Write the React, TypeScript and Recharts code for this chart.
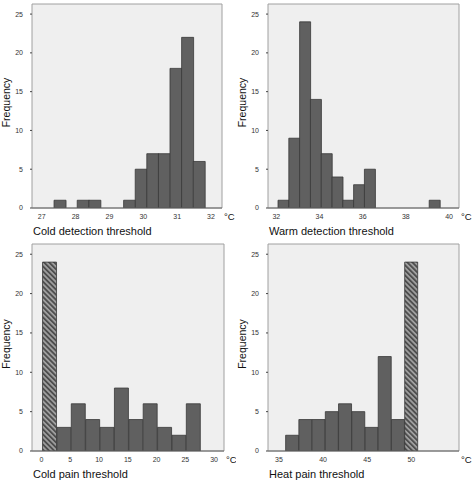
import React from 'react';
import { BarChart, Bar, XAxis, YAxis, Cell, ReferenceArea, Label, CartesianGrid } from 'recharts';

// Cold detection threshold (bin centres, °C) and frequencies
const cdtCenters = [27.535, 27.878, 28.22, 28.563, 28.905, 29.248, 29.59, 29.933, 30.275, 30.618, 30.96, 31.303, 31.645];
const cdtCounts = [1, 0, 1, 1, 0, 0, 1, 5, 7, 7, 18, 22, 6];
const cdtTicks = [27, 28, 29, 30, 31, 32];

// Warm detection threshold
const wdtCenters = [32.33, 32.83, 33.33, 33.83, 34.33, 34.83, 35.33, 35.83, 36.33, 36.83, 37.33, 37.83, 38.33, 38.83, 39.33];
const wdtCounts = [1, 9, 24, 14, 7, 4, 1, 3, 5, 0, 0, 0, 0, 0, 1];
const wdtTicks = [32, 34, 36, 38, 40];

// Cold pain threshold (first bin = cut-off at 0 °C, hatched)
const cptCenters = [1.42, 3.92, 6.42, 8.92, 11.42, 13.92, 16.42, 18.92, 21.42, 23.92, 26.42];
const cptCounts = [24, 3, 6, 4, 3, 8, 4, 6, 3, 2, 6];
const cptHatched = [true, false, false, false, false, false, false, false, false, false, false];
const cptTicks = [0, 5, 10, 15, 20, 25, 30];

// Heat pain threshold (last bin = cut-off at 50 °C, hatched)
const hptCenters = [36.5, 38, 39.5, 41, 42.5, 44, 45.5, 47, 48.5, 50];
const hptCounts = [2, 4, 4, 5, 6, 5, 3, 12, 4, 24];
const hptHatched = [false, false, false, false, false, false, false, false, false, true];
const hptTicks = [35, 40, 45, 50];

const freqTicks = [0, 5, 10, 15, 20, 25];
const freqMax = 26.3;

type PanelProps = {
  centers: number[];
  counts: number[];
  hatched?: boolean[];
  ticks: number[];
  domain: [number, number];
  title: string;
  marginRight: number;
  height: number;
  patternId: string;
};

function Panel({ centers, counts, hatched, ticks, domain, title, marginRight, height, patternId }: PanelProps) {
  const data = centers.map((x, i) => ({ x, n: counts[i], h: hatched ? hatched[i] : false }));
  return (
    <BarChart
      width={236}
      height={height}
      data={data}
      margin={{ top: 4, right: marginRight, bottom: 4, left: 0 }}
      barCategoryGap={0}
      barGap={0}
    >
      <defs>
        <pattern id={patternId} patternUnits="userSpaceOnUse" width={3.6} height={3.6} patternTransform="rotate(-45)">
          <rect width={3.6} height={3.6} fill="#a2a2a2" />
          <rect width={1.9} height={3.6} fill="#4e4e4e" />
        </pattern>
      </defs>
      <CartesianGrid horizontal={false} vertical={false} fill="#efefef" />
      <ReferenceArea
        x1={domain[0]}
        x2={domain[1]}
        y1={0}
        y2={freqMax}
        fill="none"
        fillOpacity={0}
        stroke="#a0a0a0"
        strokeWidth={1}
        ifOverflow="visible"
      />
      <XAxis
        dataKey="x"
        type="number"
        domain={domain}
        allowDataOverflow
        ticks={ticks}
        interval={0}
        height={28}
        tickLine={false}
        tickSize={0}
        tickMargin={6}
        axisLine={{ stroke: '#666' }}
        tick={{ fontSize: 7, fill: '#333' }}
      >
        <Label value={title} position="insideBottomLeft" offset={1} fontSize={11} fill="#111" />
        <Label value="°C" position="right" offset={2} dy={-5} fontSize={9.5} fill="#111" />
      </XAxis>
      <YAxis
        type="number"
        domain={[0, freqMax]}
        allowDataOverflow
        ticks={freqTicks}
        interval={0}
        width={32}
        axisLine={false}
        tickSize={2}
        tickMargin={7}
        tickLine={{ stroke: '#444' }}
        tick={{ fontSize: 7, fill: '#333' }}
      >
        <Label value="Frequency" angle={-90} position="center" dx={-10} dy={-3.5} fontSize={10.5} fill="#111" />
      </YAxis>
      <Bar dataKey="n" isAnimationActive={false} stroke="#383838" strokeWidth={0.8}>
        {data.map((d, i) => (
          <Cell key={i} fill={d.h ? `url(#${patternId})` : '#606060'} />
        ))}
      </Bar>
    </BarChart>
  );
}

export default function App() {
  return (
    <div
      style={{
        position: 'absolute',
        left: 0,
        top: 0,
        width: 472,
        height: 483,
        background: '#fff',
        fontFamily: '"Liberation Sans", Arial, sans-serif',
      }}
    >
      <div style={{ position: 'absolute', left: 0, top: 0 }}>
        <Panel centers={cdtCenters} counts={cdtCounts} ticks={cdtTicks} domain={[26.713, 32.325]}
          title="Cold detection threshold" marginRight={14} height={240} patternId="hatch1" />
      </div>
      <div style={{ position: 'absolute', left: 236, top: 0 }}>
        <Panel centers={wdtCenters} counts={wdtCounts} ticks={wdtTicks} domain={[31.616, 40.46]}
          title="Warm detection threshold" marginRight={13} height={240} patternId="hatch2" />
      </div>
      <div style={{ position: 'absolute', left: 0, top: 240 }}>
        <Panel centers={cptCenters} counts={cptCounts} hatched={cptHatched} ticks={cptTicks} domain={[-1.66, 31.72]}
          title="Cold pain threshold" marginRight={12} height={243} patternId="hatch3" />
      </div>
      <div style={{ position: 'absolute', left: 236, top: 240 }}>
        <Panel centers={hptCenters} counts={hptCounts} hatched={hptHatched} ticks={hptTicks} domain={[33.75, 55.41]}
          title="Heat pain threshold" marginRight={13} height={243} patternId="hatch4" />
      </div>
    </div>
  );
}
